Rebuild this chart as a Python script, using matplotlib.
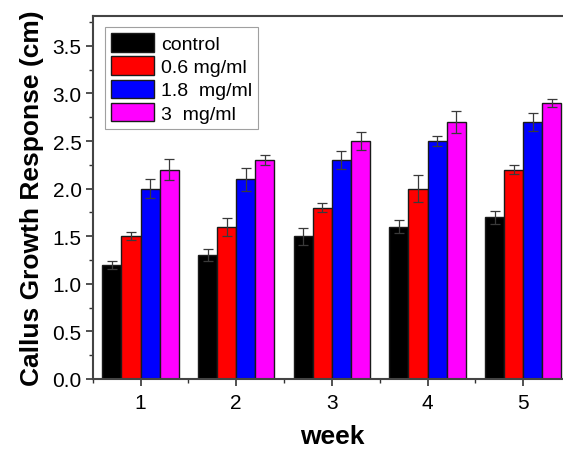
import numpy as np
import matplotlib
matplotlib.use("Agg")
import matplotlib.pyplot as plt
from matplotlib.ticker import MultipleLocator

# dados
semanas = [1, 2, 3, 4, 5]
rotulos = ["control", "0.6 mg/ml", "1.8  mg/ml", "3  mg/ml"]
cores = ["#000000", "#ff0000", "#0000ff", "#ff00ff"]

controle = [1.2, 1.3, 1.5, 1.6, 1.7]
conc_06 = [1.5, 1.6, 1.8, 2.0, 2.2]
conc_18 = [2.0, 2.1, 2.3, 2.5, 2.7]
conc_3 = [2.2, 2.3, 2.5, 2.7, 2.9]

erro_controle = [0.04, 0.065, 0.09, 0.07, 0.07]
erro_06 = [0.045, 0.095, 0.05, 0.14, 0.045]
erro_18 = [0.1, 0.12, 0.09, 0.05, 0.095]
erro_3 = [0.11, 0.05, 0.095, 0.115, 0.045]

plt.rcParams["font.family"] = ["Liberation Sans", "DejaVu Sans"]

fig = plt.figure(figsize=(5.63, 4.52), dpi=100)
ax = fig.add_axes([0.1647, 0.1593, 0.8496, 0.8024])

series = [controle, conc_06, conc_18, conc_3]
erros = [erro_controle, erro_06, erro_18, erro_3]
x = np.array(semanas)
largura = 0.2

for i, (vals, err) in enumerate(zip(series, erros)):
    pos = x + (i - 1.5) * largura
    ax.bar(pos, vals, width=largura, color=cores[i], edgecolor="#1a1a1a",
           linewidth=1.0, label=rotulos[i], zorder=2)
    ax.errorbar(pos, vals, yerr=err, fmt="none", ecolor="#3a3a3a",
                elinewidth=0.9, capsize=3.5, capthick=0.9, zorder=3)

ax.set_xlim(0.5, 5.5)
ax.set_ylim(0, 3.81)
ax.set_xticks(semanas)
ax.xaxis.set_minor_locator(MultipleLocator(0.5))
ax.yaxis.set_major_locator(MultipleLocator(0.5))
ax.yaxis.set_minor_locator(MultipleLocator(0.25))
ax.yaxis.set_major_formatter(matplotlib.ticker.FormatStrFormatter("%.1f"))

ax.tick_params(axis="both", which="major", direction="out", length=5,
               width=1.2, labelsize=15, color="#333333")
ax.tick_params(axis="both", which="minor", direction="out", length=3,
               width=1.0, color="#333333")
ax.tick_params(axis="x", pad=5)
ax.tick_params(axis="y", pad=3)

for lado in ["left", "bottom", "top", "right"]:
    ax.spines[lado].set_linewidth(1.5)
    ax.spines[lado].set_color("#444444")

ax.set_xlabel("week", fontsize=19, fontweight="bold", labelpad=9)
ax.set_ylabel("Callus Growth Response (cm)", fontsize=19, fontweight="bold",
              labelpad=6)

leg = ax.legend(loc="upper left", bbox_to_anchor=(0.026, 0.97),
                borderaxespad=0, fontsize=14, frameon=True, fancybox=False,
                edgecolor="#888888", handlelength=2.2, handleheight=1.1,
                labelspacing=0.17, handletextpad=0.38, borderpad=0.3)
leg.get_frame().set_linewidth(0.8)

fig.savefig("out.png", dpi=100)
